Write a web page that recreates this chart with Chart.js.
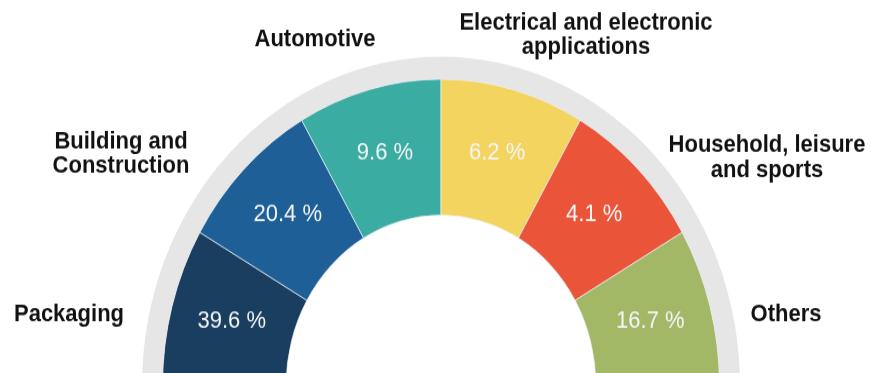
<!DOCTYPE html>
<html>
<head>
<meta charset="utf-8">
<script src="https://cdn.jsdelivr.net/npm/chart.js@4"></script>
<style>
    html, body { margin: 0; padding: 0; background: #ffffff; }
    #wrap { width: 871px; height: 373px; overflow: hidden; position: relative; }
</style>
</head>
<body>
<div id="wrap">
    <!-- the source picture is stretched a little vertically, so the canvas is too -->
    <canvas id="gauge" width="871" height="370" style="display:block;width:871px;height:407px"></canvas>
</div>
<script>
// ==================== DATA ====================
const categories = [
    'Packaging',
    'Building and Construction',
    'Automotive',
    'Electrical and electronic applications',
    'Household, leisure and sports',
    'Others'
];
const shares = [39.6, 20.4, 9.6, 6.2, 4.1, 16.7];      // % printed in each segment
const arcSpan = [30, 30, 30, 30, 30, 30];              // degrees each segment covers in the picture
const segmentColors = ['#1a3e5f', '#1f5f97', '#3aaca2', '#f3d45f', '#ea553a', '#a3b867'];

// line breaks + anchor (css px) of each outside label
const labelLines = [
    ['Packaging'],
    ['Building and', 'Construction'],
    ['Automotive'],
    ['Electrical and electronic', 'applications'],
    ['Household, leisure', 'and sports'],
    ['Others']
];
const labelAnchors = [[69, 314], [121, 154], [315, 39], [586, 35], [767, 158], [786, 314]];

const STRETCH = 1.1;

// ---- labels plugin: percentages inside, category names outside ----
const labelsPlugin = {
    id: 'gaugeLabels',
    afterDatasetsDraw(chart) {
        const ctx = chart.ctx;
        const meta = chart.getDatasetMeta(1);
        ctx.save();
        ctx.textAlign = 'center';
        ctx.textBaseline = 'middle';

        ctx.font = '22px "Liberation Sans", Arial, sans-serif';
        ctx.fillStyle = '#f4f6f8';
        meta.data.forEach(function (arc, i) {
            const p = arc.tooltipPosition();
            ctx.fillText(shares[i].toFixed(1) + ' %', p.x, p.y - 2);
        });

        ctx.font = 'bold 22px "Liberation Sans", Arial, sans-serif';
        ctx.fillStyle = '#111111';
        labelLines.forEach(function (lines, i) {
            const lineH = 25;
            const x = labelAnchors[i][0];
            let y = labelAnchors[i][1] - (lines.length - 1) * lineH / 2;
            lines.forEach(function (txt) {
                ctx.fillText(txt, x, y / STRETCH);
                y += lineH;
            });
        });
        ctx.restore();
    }
};

const ctx = document.getElementById('gauge').getContext('2d');
new Chart(ctx, {
    type: 'doughnut',
    data: {
        labels: categories,
        datasets: [{
            // light grey track behind the segments
            data: [1],
            backgroundColor: ['#e6e6e6'],
            borderWidth: 0,
            weight: 20.5
        }, {
            data: arcSpan,
            backgroundColor: segmentColors,
            borderColor: 'rgba(235, 240, 245, 0.7)',
            borderWidth: 1,
            weight: 123.5
        }]
    },
    options: {
        responsive: false,
        devicePixelRatio: 1,
        animation: false,
        rotation: -90,
        circumference: 180,
        radius: 299,
        cutout: '51.8%',
        layout: {
            padding: { left: 141, right: 130, top: 50, bottom: 18 }
        },
        plugins: {
            legend: { display: false },
            tooltip: { enabled: false }
        }
    },
    plugins: [labelsPlugin]
});
</script>
</body>
</html>
